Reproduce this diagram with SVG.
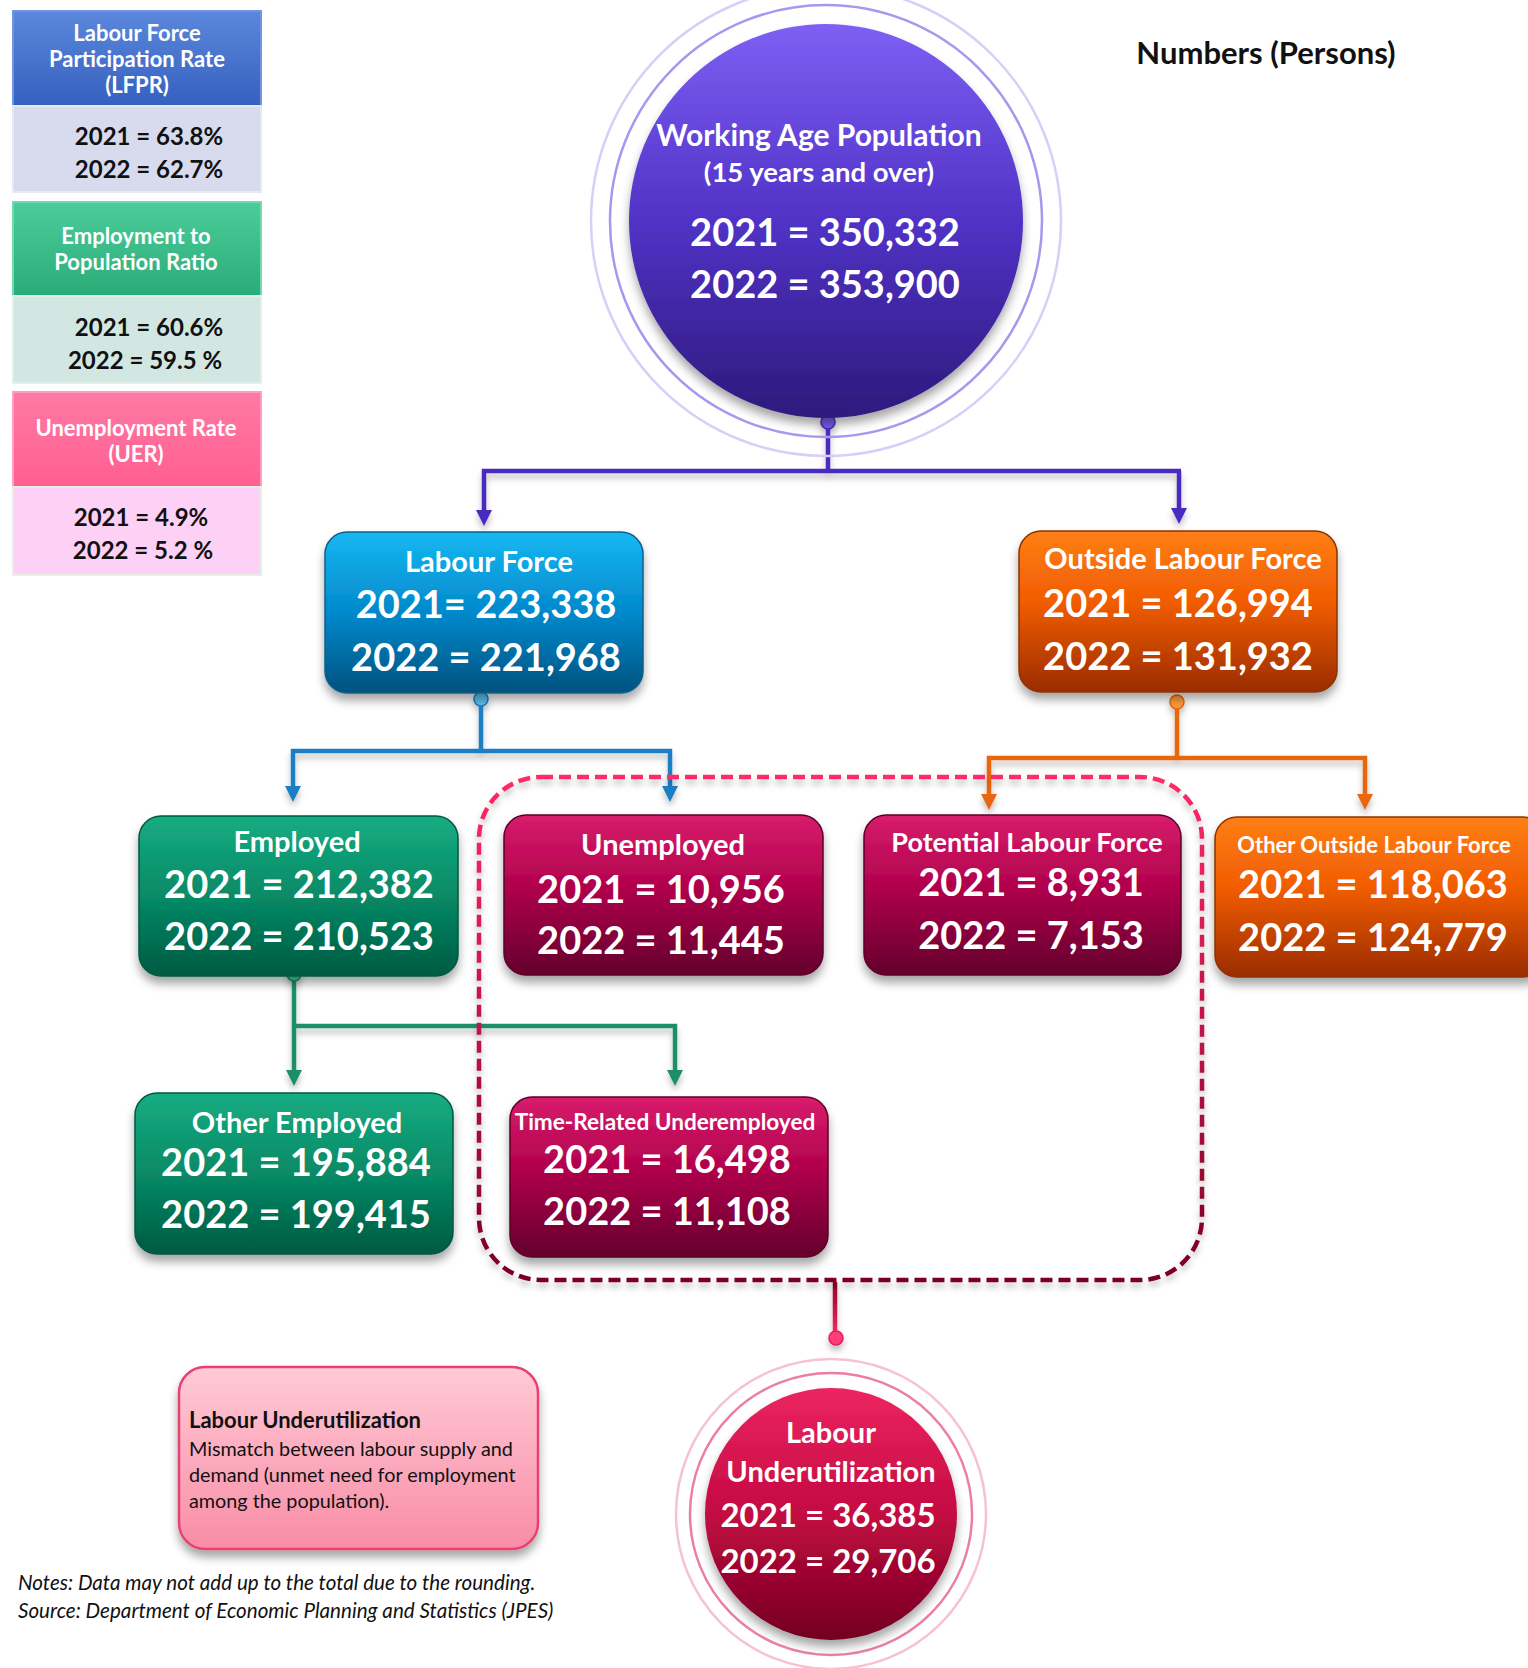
<svg xmlns="http://www.w3.org/2000/svg" width="1528" height="1668" viewBox="0 0 1528 1668">
<style>
.t{font-family:Lato,"Open Sans","Liberation Sans",sans-serif;font-weight:700;fill:#fff;text-anchor:middle}
.k{font-family:Lato,"Open Sans","Liberation Sans",sans-serif;font-weight:700;fill:#111;text-anchor:middle}
.n{font-family:Lato,"Open Sans","Liberation Sans",sans-serif;fill:#111}
.i{font-family:Lato,"Open Sans","Liberation Sans",sans-serif;font-style:italic;fill:#111}
.conn{fill:none;stroke-width:4.5;stroke-linejoin:miter}
</style>
<defs>
<filter id="sh" x="-10%" y="-10%" width="120%" height="135%"><feDropShadow dx="0" dy="7" stdDeviation="5" flood-color="#000" flood-opacity="0.35"/></filter>
<filter id="lsh" x="-5%" y="-50%" width="110%" height="300%"><feDropShadow dx="0" dy="5" stdDeviation="3" flood-color="#000" flood-opacity="0.25"/></filter>
<linearGradient id="gPurple" x1="0" y1="0" x2="0" y2="1"><stop offset="0" stop-color="#7d5ff4"/><stop offset="0.5" stop-color="#5132c6"/><stop offset="1" stop-color="#2c1a7c"/></linearGradient>
<linearGradient id="gBlue" x1="0" y1="0" x2="0" y2="1"><stop offset="0" stop-color="#16b8f2"/><stop offset="0.5" stop-color="#0289cc"/><stop offset="1" stop-color="#00527f"/></linearGradient>
<linearGradient id="gOrange" x1="0" y1="0" x2="0" y2="1"><stop offset="0" stop-color="#ff7f14"/><stop offset="0.45" stop-color="#f05c02"/><stop offset="1" stop-color="#9a2c00"/></linearGradient>
<linearGradient id="gGreen" x1="0" y1="0" x2="0" y2="1"><stop offset="0" stop-color="#17ac82"/><stop offset="0.5" stop-color="#078a66"/><stop offset="1" stop-color="#005a42"/></linearGradient>
<linearGradient id="gCrimson" x1="0" y1="0" x2="0" y2="1"><stop offset="0" stop-color="#d81c6c"/><stop offset="0.45" stop-color="#b0024c"/><stop offset="1" stop-color="#64002c"/></linearGradient>
<linearGradient id="gRed" x1="0" y1="0" x2="0" y2="1"><stop offset="0" stop-color="#ec2560"/><stop offset="0.5" stop-color="#c30a42"/><stop offset="1" stop-color="#72001f"/></linearGradient>
<linearGradient id="gPink" x1="0" y1="0" x2="0" y2="1"><stop offset="0" stop-color="#ffcad6"/><stop offset="1" stop-color="#f88ca6"/></linearGradient>
<linearGradient id="gFrame" x1="0" y1="0" x2="0" y2="1"><stop offset="0" stop-color="#ff2a68"/><stop offset="1" stop-color="#7a0024"/></linearGradient>
<linearGradient id="gDrop" gradientUnits="userSpaceOnUse" x1="0" y1="1280" x2="0" y2="1338"><stop offset="0" stop-color="#8a0028"/><stop offset="1" stop-color="#ff2a68"/></linearGradient>
<linearGradient id="hBlue" x1="0" y1="0" x2="0" y2="1"><stop offset="0" stop-color="#5b88dc"/><stop offset="1" stop-color="#3560bf"/></linearGradient>
<linearGradient id="hGreen" x1="0" y1="0" x2="0" y2="1"><stop offset="0" stop-color="#4ccc9a"/><stop offset="1" stop-color="#2aac78"/></linearGradient>
<linearGradient id="hPink" x1="0" y1="0" x2="0" y2="1"><stop offset="0" stop-color="#ff7aa6"/><stop offset="1" stop-color="#ff5e90"/></linearGradient>
</defs>
<rect width="1528" height="1668" fill="#fff"/>

<!-- left indicator panels -->
<g id="lfpr">
<rect x="13" y="11" width="248" height="95" fill="url(#hBlue)" stroke="#6f96e0" stroke-width="2"/>
<rect x="13" y="106" width="248" height="86" fill="#d8dbee" stroke="#e6e8f4" stroke-width="2"/>
<text class="t" x="137" y="41" font-size="22">Labour Force</text>
<text class="t" x="137" y="67" font-size="22">Participation Rate</text>
<text class="t" x="137" y="93" font-size="22">(LFPR)</text>
<text class="k" x="149" y="145" font-size="24">2021 = 63.8%</text>
<text class="k" x="149" y="178" font-size="24">2022 = 62.7%</text>
</g>
<g id="epr">
<rect x="13" y="202" width="248" height="94" fill="url(#hGreen)" stroke="#6fdcb0" stroke-width="2"/>
<rect x="13" y="296" width="248" height="87" fill="#d2e7e1" stroke="#e2efeb" stroke-width="2"/>
<text class="t" x="136" y="244" font-size="22">Employment to</text>
<text class="t" x="136" y="270" font-size="22">Population Ratio</text>
<text class="k" x="149" y="336" font-size="24">2021 = 60.6%</text>
<text class="k" x="145" y="369" font-size="24">2022 = 59.5 %</text>
</g>
<g id="uer">
<rect x="13" y="392" width="248" height="95" fill="url(#hPink)" stroke="#ff9ec0" stroke-width="2"/>
<rect x="13" y="487" width="248" height="88" fill="#fdd0f6" stroke="#e8eee4" stroke-width="2"/>
<text class="t" x="136" y="436" font-size="22">Unemployment Rate</text>
<text class="t" x="136" y="462" font-size="22">(UER)</text>
<text class="k" x="141" y="526" font-size="24">2021 = 4.9%</text>
<text class="k" x="143" y="559" font-size="24">2022 = 5.2 %</text>
</g>

<g id="legend-title">
<text class="k" x="1266" y="64" font-size="31">Numbers (Persons)</text>
</g>

<!-- connectors -->
<g id="connectors" filter="url(#lsh)">
<path class="conn" d="M828,422 V471 M484,514 V471 H1181 M1179,471 V512" stroke="#4a2cc0"/>
<path d="M476,510 H492 L484,526 Z M1171,508 H1187 L1179,524 Z" fill="#4a2cc0"/>
<circle cx="828" cy="422" r="7" fill="#7a60f0" stroke="#4a2cc0" stroke-width="1.5"/>

<path class="conn" d="M481,699 V751 M293,788 V751 H670 V788" stroke="#1c7fc4"/>
<path d="M285,786 H301 L293,802 Z M662,786 H678 L670,802 Z" fill="#1c7fc4"/>
<circle cx="481" cy="699" r="7" fill="#5cc4f4" stroke="#1c7fc4" stroke-width="1.5"/>

<path class="conn" d="M1177,702 V758 M989,795 V758 H1365 V795" stroke="#e8660c"/>
<path d="M981,794 H997 L989,810 Z M1357,794 H1373 L1365,810 Z" fill="#e8660c"/>
<circle cx="1177" cy="702" r="7" fill="#ff9a3c" stroke="#e8660c" stroke-width="1.5"/>

<path class="conn" d="M294,974 V1072 M294,1026 H675 V1072" stroke="#1a8f6a"/>
<path d="M286,1070 H302 L294,1086 Z M667,1070 H683 L675,1086 Z" fill="#1a8f6a"/>
<circle cx="294" cy="974" r="7" fill="#4ccca0" stroke="#1a8f6a" stroke-width="1.5"/>

<path class="conn" d="M835,1282 V1334" stroke="url(#gDrop)"/>
<circle cx="836" cy="1338" r="7" fill="#ff3c78" stroke="#e01e5a" stroke-width="1.5"/>
</g>

<!-- working age population -->
<g id="working-age">
<circle cx="826" cy="221" r="235" fill="none" stroke="#d8cef8" stroke-width="2.5"/>
<circle cx="826" cy="221" r="216" fill="none" stroke="#a996ee" stroke-width="2.5"/>
<circle cx="826" cy="221" r="197" fill="url(#gPurple)" filter="url(#sh)"/>
<text class="t" x="819" y="146" font-size="30">Working Age Population</text>
<text class="t" x="819" y="182" font-size="27.5" font-weight="600">(15 years and over)</text>
<text class="t" x="825" y="246" font-size="38">2021 = 350,332</text>
<text class="t" x="825" y="298" font-size="38">2022 = 353,900</text>
</g>

<g id="labour-force">
<rect x="325" y="532" width="318" height="161" rx="22" fill="url(#gBlue)" stroke="#0a5f8c" stroke-width="1.5" filter="url(#sh)"/>
<text class="t" x="489" y="572" font-size="29">Labour Force</text>
<text class="t" x="486" y="618" font-size="38">2021= 223,338</text>
<text class="t" x="486" y="671" font-size="38">2022 = 221,968</text>
</g>

<g id="outside-labour-force">
<rect x="1019" y="531" width="318" height="161" rx="22" fill="url(#gOrange)" stroke="#8a3400" stroke-width="1.5" filter="url(#sh)"/>
<text class="t" x="1183" y="569" font-size="29">Outside Labour Force</text>
<text class="t" x="1178" y="617" font-size="38">2021 = 126,994</text>
<text class="t" x="1178" y="670" font-size="38">2022 = 131,932</text>
</g>

<g id="employed">
<rect x="139" y="816" width="319" height="160" rx="22" fill="url(#gGreen)" stroke="#005a42" stroke-width="1.5" filter="url(#sh)"/>
<text class="t" x="297" y="852" font-size="29">Employed</text>
<text class="t" x="299" y="898" font-size="38">2021 = 212,382</text>
<text class="t" x="299" y="950" font-size="38">2022 = 210,523</text>
</g>

<g id="unemployed">
<rect x="504" y="815" width="319" height="160" rx="22" fill="url(#gCrimson)" stroke="#5e0028" stroke-width="1.5" filter="url(#sh)"/>
<text class="t" x="663" y="855" font-size="29">Unemployed</text>
<text class="t" x="661" y="903" font-size="38">2021 = 10,956</text>
<text class="t" x="661" y="954" font-size="38">2022 = 11,445</text>
</g>

<g id="potential-labour-force">
<rect x="864" y="815" width="317" height="160" rx="22" fill="url(#gCrimson)" stroke="#5e0028" stroke-width="1.5" filter="url(#sh)"/>
<text class="t" x="1027" y="852" font-size="27">Potential Labour Force</text>
<text class="t" x="1031" y="896" font-size="38">2021 = 8,931</text>
<text class="t" x="1031" y="949" font-size="38">2022 = 7,153</text>
</g>

<g id="other-outside-labour-force">
<rect x="1215" y="817" width="330" height="160" rx="22" fill="url(#gOrange)" stroke="#8a3400" stroke-width="1.5" filter="url(#sh)"/>
<text class="t" x="1374" y="853" font-size="22">Other Outside Labour Force</text>
<text class="t" x="1373" y="898" font-size="38">2021 = 118,063</text>
<text class="t" x="1373" y="951" font-size="38">2022 = 124,779</text>
</g>

<g id="other-employed">
<rect x="135" y="1093" width="318" height="161" rx="22" fill="url(#gGreen)" stroke="#005a42" stroke-width="1.5" filter="url(#sh)"/>
<text class="t" x="297" y="1133" font-size="29">Other Employed</text>
<text class="t" x="296" y="1176" font-size="38">2021 = 195,884</text>
<text class="t" x="296" y="1228" font-size="38">2022 = 199,415</text>
</g>

<g id="time-related-underemployed">
<rect x="510" y="1097" width="318" height="160" rx="22" fill="url(#gCrimson)" stroke="#5e0028" stroke-width="1.5" filter="url(#sh)"/>
<text class="t" x="665" y="1130" font-size="22.6">Time-Related Underemployed</text>
<text class="t" x="667" y="1173" font-size="38">2021 = 16,498</text>
<text class="t" x="667" y="1225" font-size="38">2022 = 11,108</text>
</g>

<g id="underutilization-frame">
<rect x="479" y="777" width="723" height="503" rx="62" fill="none" stroke="url(#gFrame)" stroke-width="4.5" stroke-dasharray="12 6" filter="url(#lsh)"/>
</g>

<g id="labour-underutilization">
<circle cx="831" cy="1514" r="155" fill="none" stroke="#f6c2d2" stroke-width="2.5"/>
<circle cx="831" cy="1514" r="141" fill="none" stroke="#ec7fa0" stroke-width="2.5"/>
<circle cx="831" cy="1514" r="126" fill="url(#gRed)" filter="url(#sh)"/>
<text class="t" x="831" y="1443" font-size="29">Labour</text>
<text class="t" x="831" y="1482" font-size="29">Underutilization</text>
<text class="t" x="828" y="1527" font-size="33">2021 = 36,385</text>
<text class="t" x="828" y="1573" font-size="33">2022 = 29,706</text>
</g>

<g id="definition">
<rect x="179" y="1367" width="359" height="182" rx="26" fill="url(#gPink)" stroke="#e84070" stroke-width="2.5" filter="url(#sh)"/>
<text class="n" x="189" y="1428" font-size="22" font-weight="700">Labour Underutilization</text>
<text class="n" x="189" y="1456" font-size="19.8">Mismatch between labour supply and</text>
<text class="n" x="189" y="1482" font-size="19.8">demand (unmet need for employment</text>
<text class="n" x="189" y="1508" font-size="19.8">among the population).</text>
</g>

<g id="notes">
<text class="i" x="18" y="1590" font-size="20.6">Notes: Data may not add up to the total due to the rounding.</text>
<text class="i" x="18" y="1618" font-size="20.6">Source: Department of Economic Planning and Statistics (JPES)</text>
</g>
</svg>
